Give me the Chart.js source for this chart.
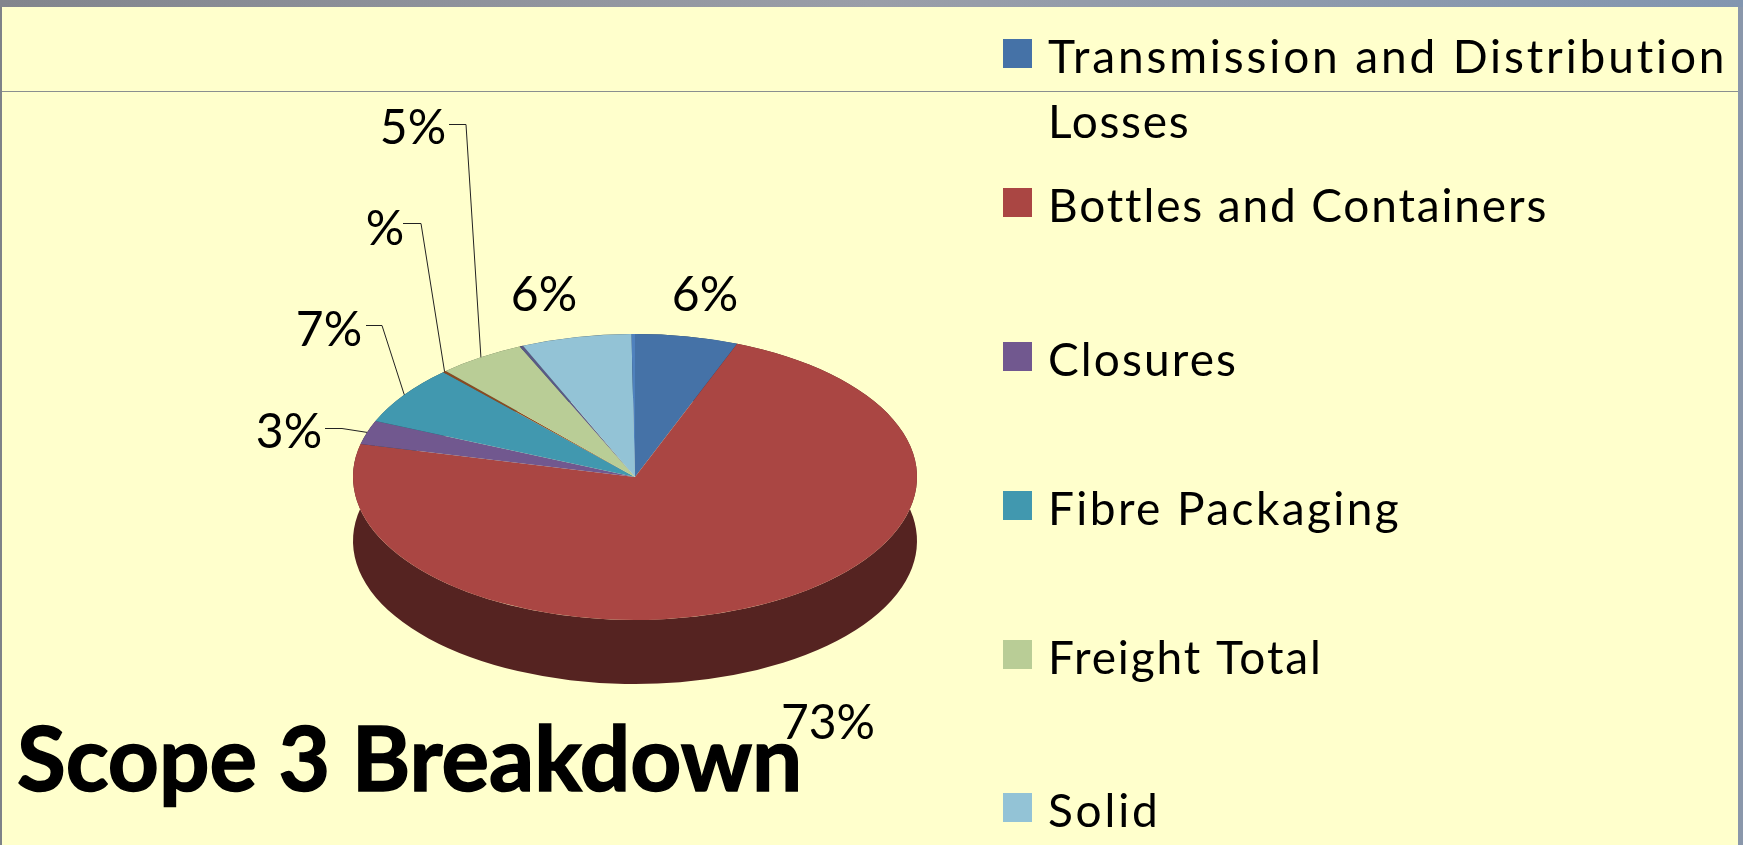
<!DOCTYPE html>
<html><head><meta charset="utf-8">
<style>html,body{margin:0;padding:0;background:#FFFFCC;overflow:hidden}canvas{display:block}</style>
<script src="https://cdn.jsdelivr.net/npm/chart.js@4/dist/chart.umd.min.js"></script>
</head><body><canvas id="c" width="1743" height="845"></canvas>
<script>
const sliceNames = ['Transmission and Distribution Losses','Bottles and Containers','Closures','Fibre Packaging','','Freight Total','','Solid',''];
const sliceValues = [5.9,72.8,2.7,6.7,0.2,5.0,0.2,6.3,0.2];
const sliceColors = ['#4572A7','#AA4643','#71588F','#4198AF','#8A4A22','#B9CD96','#5A5A85','#93C3D6','#4F81BD'];
const sliceLabels = ['6%','73%','3%','7%','%','5%','','6%',''];
const legendLines = [['Transmission and Distribution','Losses'],['Bottles and Containers'],['Closures'],['Fibre Packaging'],['Freight Total'],['Solid']];
const legendSlices = [0,1,2,3,5,7];
const legendTop = [39,188,342,491,640,793];
const legendSpacing = [[2.85,1.7],1.85,2.1,2.4,1.9,2.8];
const titleText = 'Scope 3 Breakdown';

const SQUASH = 0.507, DEPTH = 64;
const FONT = 'Lato, "Open Sans", sans-serif';
const labelPlace = [[705,296],[828,724],[289,433],[329,331],[385,230],[413,129],null,[544,296],null];
const leaderStart = [null,null,[325,428],[366,325],[403,223],[449,124],null,null,null];
const leaderElbow = [null,null,[342,428],[382,325],[421,223],[466,124],null,null,null];

function darken(hex){
  const n=parseInt(hex.slice(1),16);
  return `rgb(${(n>>16)/2|0},${((n>>8)&255)/2|0},${(n&255)/2|0})`;
}
const pie3d = {
  id:'pie3d',
  beforeDraw(chart){
    const {ctx,width,height}=chart;
    ctx.save();
    ctx.fillStyle='#FFFFCC';ctx.fillRect(0,0,width,height);
    const g=ctx.createLinearGradient(0,0,width,0);
    g.addColorStop(0,'#82858d');g.addColorStop(.5,'#9a9ea8');g.addColorStop(1,'#8296b0');
    ctx.fillStyle=g;ctx.fillRect(0,0,width,7);
    ctx.fillStyle='#7e8288';ctx.fillRect(0,7,2,height-7);
    ctx.fillStyle='#8a97ab';ctx.fillRect(width-5,7,5,height-7);
    ctx.fillStyle='#8a8f8f';ctx.fillRect(2,91,width-7,1);
    ctx.restore();
  },
  beforeDatasetsDraw(chart){
    const {ctx}=chart, arcs=chart.getDatasetMeta(0).data;
    const cx=arcs[0].x, cy=arcs[0].y, r=arcs[0].outerRadius;
    ctx.save();
    arcs.forEach((a,i)=>{
      ctx.beginPath();
      ctx.ellipse(cx,cy,r,r*SQUASH,0,a.startAngle,a.endAngle);
      ctx.ellipse(cx,cy+DEPTH,r,r*SQUASH,0,a.endAngle,a.startAngle,true);
      ctx.closePath();
      ctx.fillStyle=darken(sliceColors[i]);ctx.fill();
    });
    ctx.restore();
    ctx.save();
    ctx.translate(cx,cy);ctx.scale(1,SQUASH);ctx.translate(-cx,-cy);
  },
  afterDatasetsDraw(chart){ chart.ctx.restore(); },
  afterDraw(chart){
    const {ctx}=chart, arcs=chart.getDatasetMeta(0).data;
    const cx=arcs[0].x, cy=arcs[0].y, r=arcs[0].outerRadius;
    ctx.save();
    ctx.fillStyle='#000';ctx.textBaseline='alphabetic';
    ctx.strokeStyle='#222';ctx.lineWidth=1;
    arcs.forEach((a,i)=>{
      if(!leaderStart[i])return;
      const m=(a.startAngle+a.endAngle)/2;
      ctx.beginPath();
      ctx.moveTo(leaderStart[i][0],leaderStart[i][1]+.5);
      ctx.lineTo(leaderElbow[i][0],leaderElbow[i][1]+.5);
      ctx.lineTo(cx+Math.cos(m)*r,cy+Math.sin(m)*r*SQUASH);
      ctx.stroke();
    });
    ctx.font='48px '+FONT;ctx.textAlign='center';ctx.textBaseline='middle';
    sliceLabels.forEach((t,i)=>{ if(t&&labelPlace[i]) ctx.fillText(t,labelPlace[i][0],labelPlace[i][1]); });
    ctx.textAlign='left';ctx.textBaseline='alphabetic';
    ctx.font='46px '+FONT;
    legendLines.forEach((lines,k)=>{
      const top=legendTop[k];
      ctx.fillStyle=sliceColors[legendSlices[k]];ctx.fillRect(1003,top,29,29);
      ctx.fillStyle='#000';
      lines.forEach((s,j)=>{
        const sp=legendSpacing[k];
        ctx.letterSpacing=(Array.isArray(sp)?sp[j]:sp)+'px';
        ctx.fillText(s,1048,top+34+j*65);
      });
    });
    ctx.letterSpacing='0px';
    ctx.font='bold 89px '+FONT;ctx.fillStyle='#000';ctx.strokeStyle='#000';ctx.lineWidth=1.5;
    ctx.fillText(titleText,17,791);
    ctx.strokeText(titleText,17,791);
    ctx.restore();
  }
};
new Chart(document.getElementById('c'),{
  type:'pie',
  data:{labels:sliceNames,datasets:[{data:sliceValues,backgroundColor:sliceColors,borderWidth:0}]},
  options:{
    responsive:false,animation:false,
    layout:{padding:{left:353,right:826,top:195,bottom:86}},
    plugins:{legend:{display:false},tooltip:{enabled:false},title:{display:false}}
  },
  plugins:[pie3d]
});
</script></body></html>
